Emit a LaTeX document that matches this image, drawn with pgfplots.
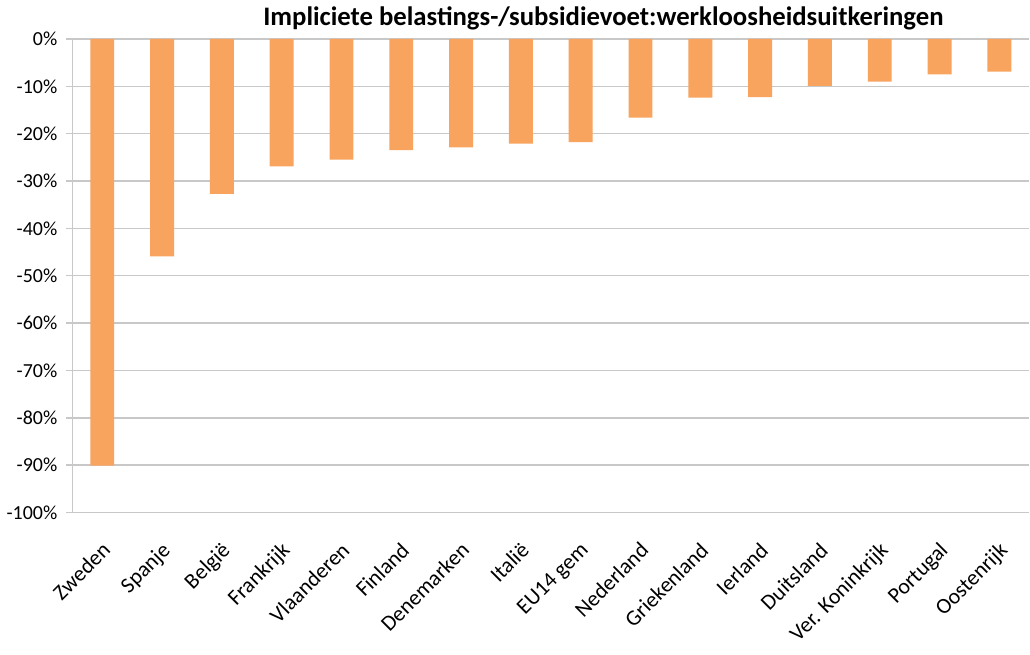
\documentclass[border=0pt]{standalone}
\usepackage{pgfplots}
\pgfplotsset{compat=1.18}
\usepackage{fontspec}
\setmainfont{Carlito}

\definecolor{barorange}{RGB}{248,163,94}
\definecolor{gridgray}{RGB}{200,200,200}

\begin{document}
\begin{tikzpicture}
\begin{axis}[
  scale only axis,
  width=480pt, height=237.5pt,
  ybar, bar width=12pt,
  xmin=-0.5, xmax=15.5,
  ymin=-100, ymax=0,
  axis line style={draw=none},
  ytick={-100,-90,...,0},
  yticklabel={\pgfmathprintnumber{\tick}\%},
  /pgf/number format/assume math mode=true,
  ymajorgrids=true,
  major grid style={gridgray, line width=0.75pt},
  ytick pos=left,
  tick align=outside,
  major tick length=3pt,
  minor tick length=3pt,
  ytick style={gridgray, line width=0.75pt},
  y tick label style={font=\fontsize{10}{12}\selectfont, xshift=-1pt},
  xtick=data,
  xticklabels={Zweden, Spanje, België, Frankrijk, Vlaanderen, Finland, Denemarken, Italië, EU14 gem, Nederland, Griekenland, Ierland, Duitsland, Ver. Koninkrijk, Portugal, Oostenrijk},
  xtick style={draw=none},
  minor xtick={-0.5,0.5,...,14.5},
  minor x tick style={gridgray, line width=0.75pt},
  xtick pos=top,
  xticklabel pos=bottom,
  x tick label style={font=\fontsize{11}{13}\selectfont, rotate=45, anchor=north east, xshift=-5pt, yshift=-4pt},
  extra x ticks={-0.5},
  extra x tick labels={},
  extra x tick style={grid=major, major tick length=0pt},
  title={Impliciete belastings-/subsidievoet:werkloosheidsuitkeringen},
  title style={font=\fontsize{13.4}{15}\selectfont\bfseries, at={(0.555,1)}, anchor=south, yshift=-5pt},
]
\addplot[fill=barorange, draw=none] coordinates {
  (0,-90.1) (1,-45.9) (2,-32.7) (3,-26.9) (4,-25.5) (5,-23.5)
  (6,-22.9) (7,-22.1) (8,-21.8) (9,-16.6) (10,-12.4) (11,-12.3)
  (12,-9.9) (13,-9.0) (14,-7.5) (15,-6.9)
};
\end{axis}
\end{tikzpicture}
\end{document}
